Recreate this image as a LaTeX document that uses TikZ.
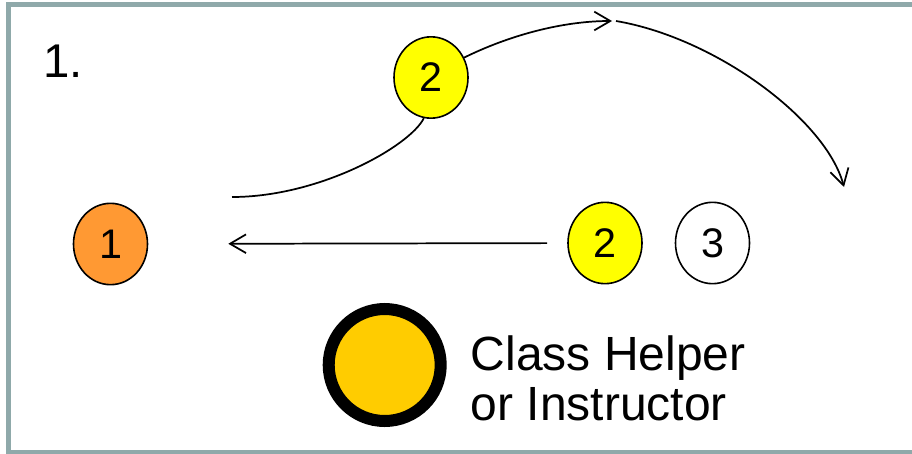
\documentclass[tikz,border=0pt]{standalone}
\usepackage{fontspec}
\setmainfont{Liberation Sans}
\usetikzlibrary{shapes.geometric,arrows.meta}
\definecolor{framegray}{HTML}{8FA9AA}
\definecolor{orng}{HTML}{FF9933}
\definecolor{ylw}{HTML}{FFFF00}
\definecolor{gold}{HTML}{FFCC00}
\begin{document}
\begin{tikzpicture}[x=0.75pt,y=-0.75pt,
  pers/.style={ellipse,draw=black,line width=1.2pt,minimum width=55.5pt,minimum height=61pt,inner sep=0pt,font=\fontsize{31}{36}\selectfont},
  thinline/.style={line width=1.3pt},
  conn/.style={thinline,-{Straight Barb[length=12pt,width=14pt]}},
  bigtext/.style={inner sep=0pt,anchor=base west,align=left,font=\fontsize{36}{37.5}\selectfont}]
\useasboundingbox (0,0) rectangle (912,453);
\draw[framegray,line width=3.75pt] (8.5,5) rectangle (920,452.5);
% step number
\node[bigtext,font=\fontsize{35.5}{40}\selectfont] (num) at (43,77) {1.};
% people
\node[pers,fill=orng] (n1) at (110.5,244) {1};
\node[pers,fill=ylw] (n2b) at (605,243) {2};
\node[pers,fill=white] (n3) at (712.5,243) {3};
\node[pers,fill=ylw] (n2t) at (431,77.5) {2};
% helper legend
\node[circle,draw=black,line width=9pt,fill=gold,minimum size=84pt,inner sep=0pt] (helper) at (384.7,365) {};
\node[bigtext] (lbl) at (470.5,420) {Class Helper\\or Instructor};
% connectors
\coordinate (s) at (232,197);
\coordinate (t) at (612,21);
\coordinate (t2) at (616,21);
\coordinate (e) at (844,187);
\draw[conn,shorten <=15pt,shorten >=60pt] (n2b) -- (n1);
\draw[thinline] (s) .. controls (320,197) and (410,146) .. (n2t.-100);
\draw[conn] (n2t.31) .. controls (509,35.5) and (562,21) .. (t);
\draw[conn] (t2) .. controls (716,38) and (826,120) .. (e);
\end{tikzpicture}
\end{document}
